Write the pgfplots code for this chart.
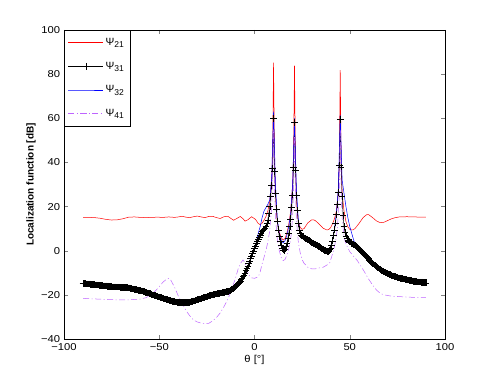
\documentclass[border=0pt]{standalone}
\usepackage{fontspec}
\setmainfont{Liberation Sans}
\usepackage{pgfplots}
\pgfplotsset{compat=1.18}
\definecolor{psired}{RGB}{255,0,0}
\definecolor{psiblue}{RGB}{0,0,255}
\definecolor{psiviolet}{RGB}{190,100,255}
\newcommand{\psisub}[1]{Ψ\raisebox{-0.4ex}{\fontsize{8.5}{9}\selectfont #1}}

\begin{document}
\begin{tikzpicture}
\useasboundingbox (-64pt,-43pt) rectangle (427pt,339pt);
\begin{axis}[
    at={(0pt,0pt)}, anchor=south west,
    scale only axis, width=381pt, height=309pt,
    xmin=-100, xmax=100, ymin=-40, ymax=100,
    xtick={-100,-50,0,50,100},
    xticklabels={−100,−50,0,50,100},
    ytick={-40,-20,0,20,40,60,80,100},
    yticklabels={−40,−20,0,20,40,60,80,100},
    tick align=inside, tick pos=both, major tick length=4pt,
    axis line style={line width=0.5pt},
    ticklabel style={font=\fontsize{10}{12}\selectfont, xscale=1.12},
    xticklabel style={yshift=-1pt},
    xlabel={θ [°]},
    ylabel={\bfseries Localization function [dB]},
    label style={font=\fontsize{10}{12}\selectfont},
    xlabel style={xscale=1.12, yshift=2pt},
    ylabel style={yshift=-2pt},
    legend style={at={(0,1)}, anchor=north west,
      font=\fontsize{10.5}{12}\selectfont, inner xsep=4pt, inner ysep=6pt,
      row sep=11pt, legend cell align=left},
    legend image code/.code={\draw[mark repeat=2,mark phase=2,#1]
      plot coordinates {(0pt,0pt) (17.5pt,0pt) (35pt,0pt)};},
]
% Psi_21
\addplot[psired, line width=0.5pt, no marks] coordinates {
(-90,15.1)(-87,15.1)(-84,15.0)(-81,14.7)(-78,14.2)(-75,13.9)(-72,14.0)(-69,14.5)
(-66,15.2)(-63,15.3)(-60,15.1)(-57,15.0)(-54,15.1)(-51,15.2)(-48,15.1)(-45,15.3)
(-42,15.1)(-40,15.3)(-38,15.6)(-36,15.2)(-34,15.0)(-32,15.4)(-30,15.7)(-28,15.3)
(-26,15.0)(-24,15.5)(-22,15.6)(-20,15.0)(-18,14.6)(-16,15.4)(-14,15.6)(-12,14.4)
(-11,13.8)(-9.5,14.5)(-7.5,15.5)(-6,14.5)(-5,13.4)(-3.5,14.0)(-1.5,15.4)(0.5,14.2)
(2,12.3)(3,11.8)(4,12.5)(5,13.8)(6,15.5)(7,18)(8,22.5)(9,32)(9.5,44)(10,85.2)
(10.5,42)(11,27)(11.5,18)(12,13)(13,8.5)(14,6)(15,4.8)(16,5.5)(17,8)(18,12)(19,18)
(20,30)(20.5,43)(21,83.8)(21.5,40)(22,24)(22.5,17)(23,13.5)(24,10.5)(25,9.7)
(26,10.0)(27,11.3)(28,12.6)(30,14.0)(31,14.0)(32,13.6)(34,12.0)(36,10.2)(38,9.4)
(39,9.6)(40,10.5)(41,12.3)(42,14.5)(43,18)(44,27)(44.5,40)(45,81.8)(45.5,40)
(46,26)(47,18)(48,13.2)(49,10.8)(50,9.7)(51,9.4)(52,9.5)(53,10.3)(55,12.5)(57,15)
(59,16.4)(60,16.3)(62,15.0)(64,13.5)(66,12.7)(68,12.9)(70,13.7)(72,14.5)(74,15.0)
(76,15.3)(80,15.4)(84,15.3)(88,15.2)(90,15.2)
};
% Psi_31
\addplot[black, line width=0.5pt, mark=+, mark size=3.3pt, mark options={line width=0.4pt}] coordinates {
(-90,-14.8)(-89.5,-14.9)(-89,-14.9)(-88.5,-15.0)(-88,-15.0)(-87.5,-15.1)(-87,-15.1)
(-86.5,-15.2)(-86,-15.2)(-85.5,-15.3)(-85,-15.3)(-84.5,-15.4)(-84,-15.4)(-83.5,-15.5)
(-83,-15.5)(-82.5,-15.6)(-82,-15.6)(-81.5,-15.7)(-81,-15.7)(-80.5,-15.8)(-80,-15.8)
(-79.5,-15.9)(-79,-15.9)(-78.5,-16.0)(-78,-16.0)(-77.5,-16.1)(-77,-16.1)(-76.5,-16.2)
(-76,-16.2)(-75.5,-16.3)(-75,-16.3)(-74.5,-16.4)(-74,-16.4)(-73.5,-16.4)(-73,-16.4)
(-72.5,-16.5)(-72,-16.5)(-71.5,-16.5)(-71,-16.5)(-70.5,-16.6)(-70,-16.6)(-69.5,-16.6)
(-69,-16.6)(-68.5,-16.7)(-68,-16.7)(-67.5,-16.8)(-67,-16.8)(-66.5,-16.9)(-66,-16.9)
(-65.5,-17.0)(-65,-17.1)(-64.5,-17.2)(-64,-17.3)(-63.5,-17.4)(-63,-17.5)(-62.5,-17.6)
(-62,-17.7)(-61.5,-17.8)(-61,-17.9)(-60.5,-18.0)(-60,-18.1)(-59.5,-18.2)(-59,-18.3)
(-58.5,-18.5)(-58,-18.6)(-57.5,-18.8)(-57,-18.9)(-56.5,-19.1)(-56,-19.2)(-55.5,-19.4)
(-55,-19.5)(-54.5,-19.7)(-54,-19.8)(-53.5,-20.0)(-53,-20.1)(-52.5,-20.3)(-52,-20.4)
(-51.5,-20.6)(-51,-20.7)(-50.5,-20.9)(-50,-21.0)(-49.5,-21.2)(-49,-21.3)(-48.5,-21.5)
(-48,-21.6)(-47.5,-21.8)(-47,-21.9)(-46.5,-22.1)(-46,-22.2)(-45.5,-22.4)(-45,-22.5)
(-44.5,-22.6)(-44,-22.7)(-43.5,-22.8)(-43,-22.9)(-42.5,-23.0)(-42,-23.1)(-41.5,-23.2)
(-41,-23.3)(-40.5,-23.4)(-40,-23.4)(-39.5,-23.5)(-39,-23.5)(-38.5,-23.6)(-38,-23.6)
(-37.5,-23.6)(-37,-23.6)(-36.5,-23.6)(-36,-23.6)(-35.5,-23.5)(-35,-23.5)(-34.5,-23.4)
(-34,-23.3)(-33.5,-23.2)(-33,-23.1)(-32.5,-23.0)(-32,-22.8)(-31.5,-22.7)(-31,-22.5)
(-30.5,-22.4)(-30,-22.2)(-29.5,-22.1)(-29,-21.9)(-28.5,-21.8)(-28,-21.6)(-27.5,-21.5)
(-27,-21.3)(-26.5,-21.2)(-26,-21.0)(-25.5,-20.9)(-25,-20.7)(-24.5,-20.6)(-24,-20.4)
(-23.5,-20.3)(-23,-20.2)(-22.5,-20.1)(-22,-20.0)(-21.5,-19.9)(-21,-19.8)(-20.5,-19.7)
(-20,-19.6)(-19.5,-19.5)(-19,-19.4)(-18.5,-19.3)(-18,-19.2)(-17.5,-19.1)(-17,-19.0)
(-16.5,-18.9)(-16,-18.8)(-15.5,-18.7)(-15,-18.6)(-14.5,-18.5)(-14,-18.4)(-13.5,-18.3)
(-13,-18.1)(-12.5,-17.9)(-12,-17.6)(-11.5,-17.3)(-11,-17.0)(-10.5,-16.6)(-10,-16.2)
(-9.5,-15.8)(-9,-15.3)(-8.5,-14.8)(-8,-14.3)(-7.5,-13.7)(-7,-13.1)(-6.5,-12.4)
(-6,-11.7)(-5.5,-10.9)(-5,-10.0)(-4.5,-9.0)(-4,-8.0)(-3.5,-6.9)(-3,-5.8)(-2.5,-4.7)
(-2,-3.5)(-1.5,-2.4)(-1,-1.2)(-0.5,-0.1)(0,1.0)(0.5,2.1)(1,3.2)(1.5,4.3)(2,5.3)
(2.5,6.3)(3,7.2)(3.5,8.0)(4,8.7)(4.5,9.3)(5,9.8)(5.5,10.3)(6,11.0)
(6.5,12.3)(7,14.0)(7.5,16.8)(8,20.0)(8.5,24.5)(9,29.5)(9.5,37.3)(10,60.0)(10.5,35.8)
(11,26.0)(11.5,19.0)(12,13.5)(12.5,9.5)(13,6.5)(13.5,4.3)(14,2.6)(14.5,1.0)(15,0.3)
(15.5,0.2)(16,0.8)(16.5,2.0)(17,3.5)(17.5,5.5)(18,8.0)(18.5,11.0)(19,14.5)(19.5,19.5)
(20,25.2)(20.5,37.7)(21,58.1)(21.5,36.5)(22,25.0)(22.5,18.4)(23,12.4)(23.5,9.5)
(24,7.9)(24.5,7.2)(25,6.6)(25.5,6.2)(26,5.8)(26.5,5.5)(27,5.3)(27.5,5.0)(28,4.8)
(28.5,4.5)(29,4.3)(29.5,4.0)(30,3.8)(30.5,3.5)(31,3.3)(31.5,3.0)(32,2.8)(32.5,2.5)
(33,2.3)(33.5,2.0)(34,1.8)(34.5,1.4)(35,1.1)(35.5,0.8)(36,0.5)(36.5,0.2)(37,0.0)
(37.5,-0.2)(38,-0.4)(38.5,-0.3)(39,0.0)(39.5,0.5)(40,1.2)(40.5,2.5)(41,4.5)(41.5,6.8)
(42,9.5)(42.5,12.5)(43,16.5)(43.5,21.0)(44,26.5)(44.5,38.8)(45,59.4)(45.5,38.0)
(46,24.5)(46.5,16.0)(47,11.0)(47.5,8.2)(48,6.6)(48.5,5.6)(49,4.9)(49.5,4.4)(50,4.0)
(50.5,3.7)(51,3.4)(51.5,3.1)(52,2.9)(52.5,2.6)(53,2.4)(53.5,2.1)(54,1.7)(54.5,1.2)
(55,0.8)(55.5,0.3)(56,-0.2)(56.5,-0.6)(57,-1.1)(57.5,-1.6)(58,-2.1)(58.5,-2.6)
(59,-3.1)(59.5,-3.6)(60,-4.0)(60.5,-4.4)(61,-4.8)(61.5,-5.2)(62,-5.6)(62.5,-6.0)
(63,-6.4)(63.5,-6.8)(64,-7.2)(64.5,-7.6)(65,-7.9)(65.5,-8.3)(66,-8.6)(66.5,-8.9)
(67,-9.2)(67.5,-9.5)(68,-9.7)(68.5,-9.9)(69,-10.1)(69.5,-10.3)(70,-10.5)(70.5,-10.7)
(71,-10.9)(71.5,-11.1)(72,-11.2)(72.5,-11.4)(73,-11.5)(73.5,-11.7)(74,-11.8)
(74.5,-12.0)(75,-12.1)(75.5,-12.3)(76,-12.4)(76.5,-12.5)(77,-12.6)(77.5,-12.7)
(78,-12.8)(78.5,-12.9)(79,-13.0)(79.5,-13.1)(80,-13.2)(80.5,-13.3)(81,-13.4)
(81.5,-13.5)(82,-13.6)(82.5,-13.7)(83,-13.8)(83.5,-13.9)(84,-13.9)(84.5,-14.0)
(85,-14.0)(85.5,-14.1)(86,-14.1)(86.5,-14.2)(87,-14.2)(87.5,-14.3)(88,-14.3)
(88.5,-14.4)(89,-14.4)(89.5,-14.5)(90,-14.5)
};
% Psi_32
\addplot[psiblue, line width=0.5pt, no marks] coordinates {
(-90,-15.6)(-85,-16.0)(-80,-16.5)(-75,-17.0)(-70,-17.3)(-65,-17.8)(-60,-18.6)
(-55,-19.8)(-50,-21.2)(-45,-22.6)(-40,-23.6)(-36,-23.8)(-32,-23.2)(-28,-22.0)
(-24,-20.8)(-20,-20.0)(-16,-19.2)(-13,-18.5)(-11,-17.4)(-9,-15.7)(-7,-13.4)(-5,-10.2)
(-3,-5.8)(-1,-1.0)(1,3.8)(2,8)(3,11)(4,15)(5,18)(6,19.5)(7,21)(8,23)(9,33)(10,63)
(11,30)(12,14)(13,8)(14,5)(15,3.5)(16,4.5)(17,7)(18,11)(19,17)(20,30)(21,60)(22,28)
(23,14)(24,8.5)(25,6.8)(27,5.4)(30,3.9)(33,2.3)(35,1.0)(37,0.0)(38,-0.2)(39,0.5)
(40,2)(41,5)(42,10)(43,17)(44,28)(45,61.5)(46,32)(47,26)(48,20)(49,15)(50,11)
(51,8)(52,5)(53,2.5)(54,0.8)(55,0.0)(56,-0.6)(58,-2.5)(60,-4.5)(62,-6.0)(65,-8.3)
(68,-10.3)(70,-11.1)(75,-12.8)(80,-14.0)(85,-14.8)(90,-15.2)
};
% Psi_41
\addplot[psiviolet, line width=0.5pt, no marks, dash pattern=on 6pt off 2.5pt on 1pt off 2.5pt] coordinates {
(-90,-21.6)(-85,-21.8)(-80,-22.0)(-75,-22.2)(-70,-22.3)(-65,-22.2)(-60,-21.9)
(-57,-21.3)(-54,-19.8)(-52,-18.2)(-50,-16.3)(-48,-14.2)(-46,-12.8)(-45,-12.5)
(-44,-13.2)(-42,-16.5)(-40,-20.5)(-38,-23.8)(-36,-27.0)(-34,-29.5)(-32,-31.4)
(-30,-32.3)(-28,-32.8)(-26,-33.0)(-24,-32.9)(-22,-31.8)(-20,-30.3)(-18,-28.2)
(-16,-25.3)(-14,-22.0)(-12,-17.5)(-10,-12.5)(-8.5,-8.0)(-7,-5.3)(-6,-4.2)(-5,-5.5)
(-4,-8.5)(-3,-11.0)(-1.5,-12.3)(0,-12.5)(2,-11.8)(3,-9.5)(4,-6.0)(5,-3.0)(6,0)
(7,4)(8,9)(9,20)(9.5,32)(10,55)(10.5,30)(11,15)(12,5)(13,0)(14,-3)(15,-4.5)(16,-4)
(17,-2)(18,1)(19,5)(20,15)(20.5,28)(21,52)(21.5,28)(22,14)(23,4)(24,-1)(25,-4)
(26,-5.7)(28,-7.5)(30,-8.2)(32,-8.2)(34,-7.8)(36,-7.5)(38,-6.5)(39.5,-5.5)
(40.5,-2.7)(41.5,0)(42.5,4)(43.5,10)(44.5,25)(45,55)(45.5,27)(46,15)(47,6)(48,3)
(50,-0.4)(52,-2.5)(54,-4.5)(56,-7.2)(58,-10)(60,-13)(62,-15.5)(64,-17.8)(66,-19.3)
(68,-20.0)(72,-20.6)(76,-20.8)(80,-21.0)(85,-21.2)(90,-21.3)
};
\legend{\psisub{21},\psisub{31},\psisub{32},\psisub{41}}
\end{axis}
\end{tikzpicture}
\end{document}
